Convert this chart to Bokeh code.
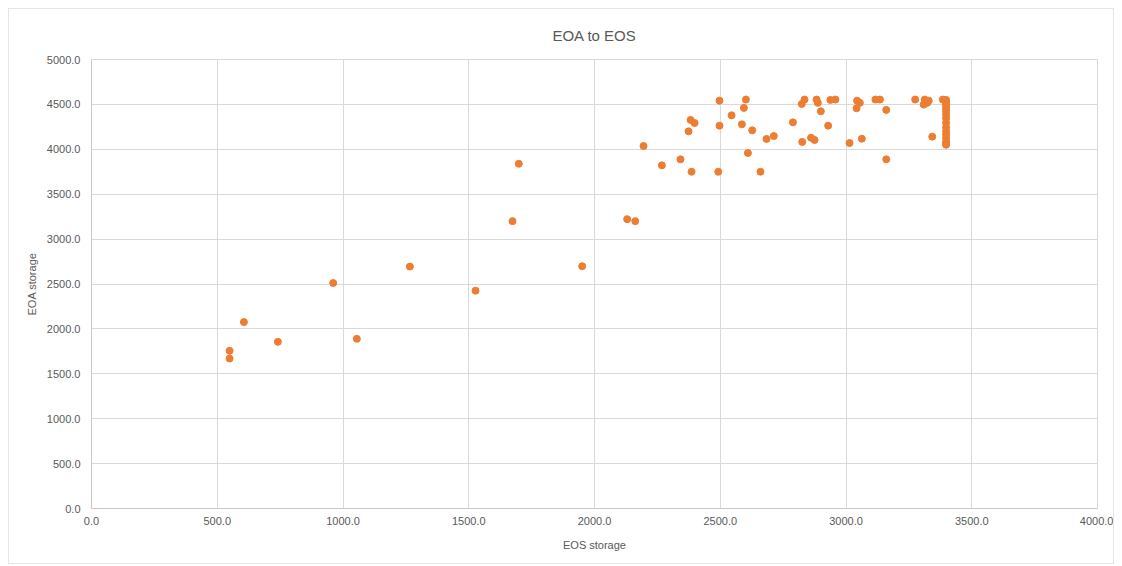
from bokeh.plotting import figure
from bokeh.models import ColumnDataSource, Range1d, SingleIntervalTicker, NumeralTickFormatter
from bokeh.embed import file_html
from bokeh.resources import INLINE

# EOS storage (x) and EOA storage (y)
eos_storage = [
    549, 549, 606, 741, 961, 1055, 1266, 1527, 1674, 1699, 1951,
    2130, 2162, 2195, 2268, 2342, 2374, 2382, 2398, 2386, 2492, 2497,
    2497, 2545, 2586, 2594, 2602, 2610, 2627, 2660, 2684, 2713, 2789,
    2826, 2824, 2835, 2861, 2875, 2883, 2888, 2900, 2929, 2938, 2958,
    3014, 3044, 3055, 3042, 3063, 3117, 3135, 3160, 3160, 3275, 3313,
    3329, 3323, 3309, 3343,
    3398, 3398, 3398, 3398, 3398, 3398, 3398, 3398, 3398, 3398, 3398,
    3398, 3398, 3398, 3398, 3398, 3385,
]
eoa_storage = [
    1756, 1670, 2076, 1856, 2511, 1890, 2694, 2426, 3200, 3839, 2698,
    3222, 3200, 4037, 3821, 3888, 4200, 4327, 4293, 3750, 3750, 4542,
    4263, 4379, 4278, 4461, 4554, 3959, 4211, 3750, 4115, 4148, 4300,
    4082, 4505, 4554, 4129, 4104, 4554, 4517, 4423, 4263, 4550, 4554,
    4070, 4542, 4517, 4457, 4118, 4554, 4554, 4439, 3888, 4554, 4554,
    4542, 4517, 4498, 4141,
    4550, 4530, 4505, 4480, 4450, 4420, 4385, 4345, 4295, 4245, 4200,
    4165, 4125, 4085, 4065, 4050, 4554,
]

title_text = "EOA to EOS"
x_label = "EOS storage"
y_label = "EOA storage"

src = ColumnDataSource(dict(x=eos_storage, y=eoa_storage))

TXT = "#595959"
GRID = "#d9d9d9"
FONT = "Liberation Sans"

p = figure(
    width=1106, height=556,
    x_range=Range1d(0, 4000), y_range=Range1d(0, 5000),
    output_backend="svg", toolbar_location=None,
    min_border_left=82, min_border_right=18, min_border_top=50, min_border_bottom=57,
)
p.styles = {"border": "1px solid #e6e6e6", "box-sizing": "border-box",
            "margin-left": "8px", "margin-top": "8px"}

p.title.text = title_text
p.title.align = "center"
p.title.vertical_align = "top"
p.title.text_font = FONT
p.title.text_font_size = "15px"
p.title.text_font_style = "normal"
p.title.text_color = TXT
p.title.offset = 0
p.title.standoff = 28

p.scatter("x", "y", source=src, size=7, color="#ED7D31", line_color="#ED7D31")

p.xaxis.ticker = SingleIntervalTicker(interval=500)
p.yaxis.ticker = SingleIntervalTicker(interval=500)
p.xaxis.formatter = NumeralTickFormatter(format="0.0")
p.yaxis.formatter = NumeralTickFormatter(format="0.0")
p.xaxis.axis_label = x_label
p.yaxis.axis_label = y_label

for ax in (p.xaxis, p.yaxis):
    ax.major_tick_line_color = None
    ax.minor_tick_line_color = None
    ax.major_tick_out = 0
    ax.major_tick_in = 0
    ax.minor_tick_out = 0
    ax.minor_tick_in = 0
    ax.axis_line_color = "#c8c8c8"
    ax.major_label_text_font = FONT
    ax.major_label_text_font_size = "11px"
    ax.major_label_text_color = TXT
    ax.axis_label_text_font = FONT
    ax.axis_label_text_font_size = "11px"
    ax.axis_label_text_font_style = "normal"
    ax.axis_label_text_color = TXT

p.xaxis.major_label_standoff = 8
p.xaxis.axis_label_standoff = 11
p.yaxis.major_label_standoff = 11
p.yaxis.axis_label_standoff = 6

p.grid.grid_line_color = GRID
p.grid.grid_line_width = 1
p.outline_line_color = GRID
p.background_fill_color = "white"
p.border_fill_color = "white"

open("out.html", "w").write(file_html(p, INLINE))
